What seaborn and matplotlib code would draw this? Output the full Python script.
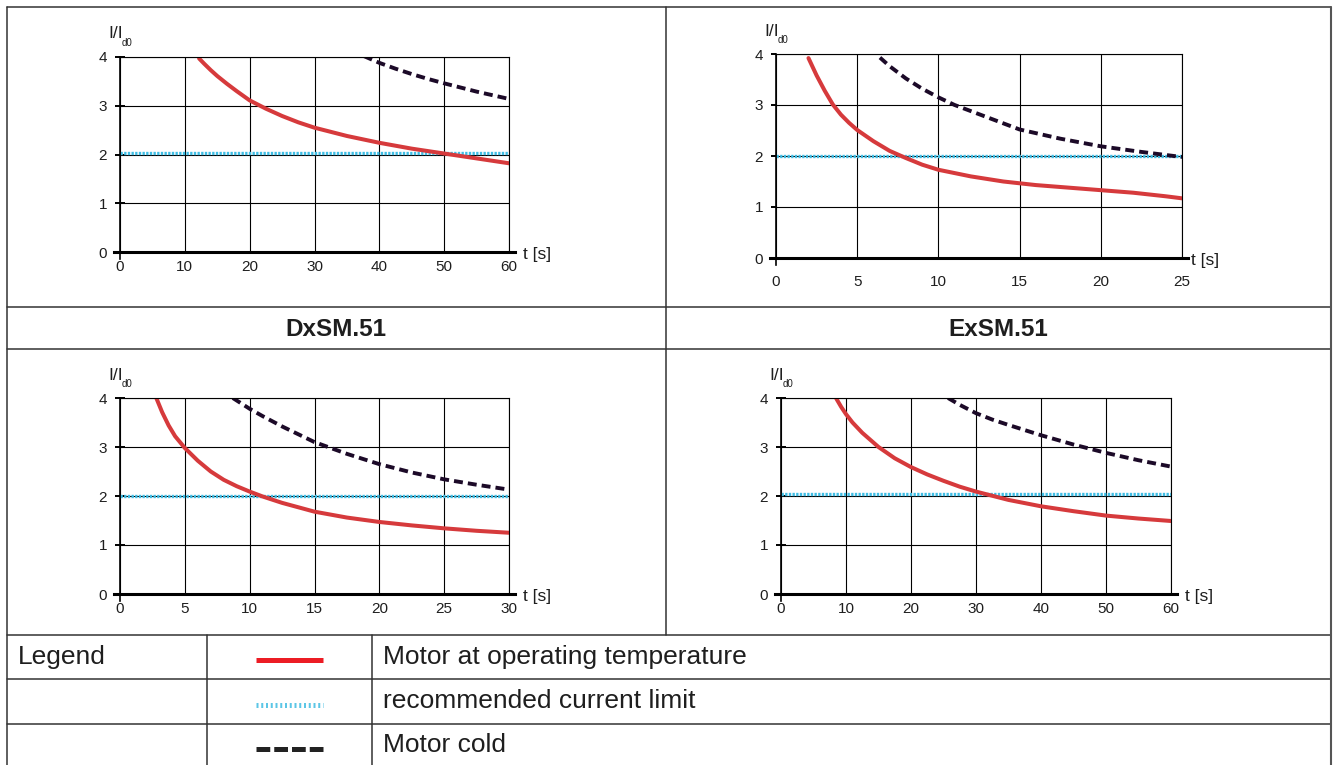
import matplotlib
matplotlib.use("Agg")
import matplotlib.pyplot as plt
import seaborn as sns
from matplotlib.lines import Line2D

# ---------------- data ----------------
y_ticks = [0, 1, 2, 3, 4]

# top-left chart
tl_x_ticks = [0, 10, 20, 30, 40, 50, 60]
tl_hot_t = [12.2, 13, 14, 15, 16.5, 18, 20, 22.5, 25, 27.5, 30, 35, 40, 45, 50, 55, 60]
tl_hot_i = [3.97, 3.86, 3.73, 3.61, 3.45, 3.30, 3.11, 2.94, 2.79, 2.66, 2.55, 2.38, 2.24, 2.12, 2.02, 1.92, 1.82]
tl_cold_t = [37.6, 40, 42.5, 45, 47.5, 50, 55, 60]
tl_cold_i = [4.02, 3.88, 3.76, 3.65, 3.55, 3.46, 3.29, 3.14]
tl_limit = 2.04

# top-right chart
tr_x_ticks = [0, 5, 10, 15, 20, 25]
tr_hot_t = [2.0, 2.5, 3.0, 3.5, 4, 4.5, 5, 6, 7, 8, 9, 10, 12, 14, 16, 18, 20, 22, 24, 25]
tr_hot_i = [3.92, 3.58, 3.28, 3.01, 2.81, 2.65, 2.51, 2.29, 2.10, 1.96, 1.83, 1.73, 1.60, 1.50, 1.43, 1.38, 1.33, 1.28, 1.21, 1.17]
tr_cold_t = [6.4, 7, 8, 9, 10, 11, 12, 13.5, 15, 17.5, 20, 22.5, 25]
tr_cold_i = [3.93, 3.76, 3.52, 3.32, 3.15, 3.00, 2.88, 2.70, 2.52, 2.34, 2.19, 2.08, 1.98]
tr_limit = 2.0

# bottom-left chart (DxSM.51 row)
bl_x_ticks = [0, 5, 10, 15, 20, 25, 30]
bl_hot_t = [2.8, 3.25, 3.75, 4.25, 5, 6, 7, 8, 9, 10, 11, 12.5, 15, 17.5, 20, 22.5, 25, 27.5, 30]
bl_hot_i = [4.0, 3.71, 3.44, 3.22, 2.98, 2.72, 2.50, 2.33, 2.20, 2.09, 1.99, 1.86, 1.68, 1.56, 1.47, 1.40, 1.34, 1.29, 1.25]
bl_cold_t = [8.7, 10, 11, 12.5, 15, 17.5, 20, 22.5, 25, 27.5, 30]
bl_cold_i = [4.0, 3.78, 3.63, 3.42, 3.10, 2.86, 2.65, 2.48, 2.34, 2.23, 2.13]
bl_limit = 2.0

# bottom-right chart (ExSM.51 row)
br_x_ticks = [0, 10, 20, 30, 40, 50, 60]
br_hot_t = [8.5, 9.25, 10, 11, 12.5, 15, 17.5, 20, 22.5, 25, 27.5, 30, 35, 40, 45, 50, 55, 60]
br_hot_i = [3.99, 3.82, 3.67, 3.50, 3.29, 3.00, 2.77, 2.59, 2.44, 2.31, 2.19, 2.09, 1.92, 1.79, 1.69, 1.60, 1.54, 1.49]
br_cold_t = [25.7, 27.5, 30, 32.5, 35, 40, 45, 50, 55, 60]
br_cold_i = [4.0, 3.86, 3.69, 3.56, 3.45, 3.24, 3.05, 2.88, 2.73, 2.60]
br_limit = 2.05

headers = ["DxSM.51", "ExSM.51"]
legend_title = "Legend"
legend_labels = ["Motor at operating temperature", "recommended current limit", "Motor cold"]
y_label_main = "I/I"
y_label_sub = "d0"
x_label = "t [s]"

# ---------------- style ----------------
RED = "#d63a3c"
RED_LEG = "#ec1c24"
CYAN = "#3fbde4"
DARK = "#1c0a28"
LINE = "#333333"
TXT = "#1e1e1e"

sns.set_theme(style="white")
plt.rcParams["font.family"] = ["Liberation Sans", "DejaVu Sans"]

W, H = 1338, 765
fig = plt.figure(figsize=(W / 100, H / 100), dpi=100)


def hline(y, x0, x1, lw=1.1, c=LINE):
    fig.add_artist(Line2D([x0 / W, x1 / W], [1 - y / H, 1 - y / H], color=c, lw=lw,
                          transform=fig.transFigure))


def vline(x, y0, y1, lw=1.1, c=LINE):
    fig.add_artist(Line2D([x / W, x / W], [1 - y0 / H, 1 - y1 / H], color=c, lw=lw,
                          transform=fig.transFigure))


# table structure
hline(7, 7, 1331)
hline(307, 7, 1331)
hline(349, 7, 1331)
hline(635, 7, 1331)
hline(679, 7, 1331)
hline(724, 7, 1331)
vline(7, 7, 765)
vline(1331, 7, 765, lw=1.5, c="#555555")
vline(666, 7, 635)
vline(207, 635, 765)
vline(372, 635, 765)

# headers
for txt, cx in zip(headers, [336, 998]):
    fig.text(cx / W, 1 - 329 / H, txt, ha="center", va="center",
             fontsize=17.5, fontweight="bold", color=TXT)

# legend rows
fig.text(18 / W, 1 - 657 / H, legend_title, ha="left", va="center", fontsize=19, color=TXT)
for txt, cy in zip(legend_labels, [657, 701, 745]):
    fig.text(383 / W, 1 - cy / H, txt, ha="left", va="center", fontsize=19, color=TXT)

fig.add_artist(Line2D([256 / W, 323 / W], [1 - 660 / H] * 2, color=RED_LEG, lw=3.6,
                      transform=fig.transFigure, solid_capstyle="butt"))
fig.add_artist(Line2D([256 / W, 323 / W], [1 - 705 / H] * 2, color="#5cc6e6", lw=3.6,
                      linestyle=(0, (0.4, 0.55)), dash_capstyle="butt",
                      transform=fig.transFigure))
fig.add_artist(Line2D([256 / W, 323 / W], [1 - 749 / H] * 2, color="#222222", lw=3.6,
                      linestyle=(0, (2.75, 0.8)), dash_capstyle="butt",
                      transform=fig.transFigure))


def px_axes(x0, y0, x1, y1):
    return fig.add_axes([x0 / W, 1 - y1 / H, (x1 - x0) / W, (y1 - y0) / H])


def draw_chart(ax, hot_t, hot_i, cold_t, cold_i, limit, xticks, xpad, ytick_dir, tlab_dx):
    xmax = xticks[-1]
    sns.lineplot(x=[0, xmax], y=[limit, limit], ax=ax, color=CYAN, lw=2.4,
                 linestyle=(0, (0.7, 0.4)))
    sns.lineplot(x=hot_t, y=hot_i, ax=ax, color=RED, lw=2.9)
    sns.lineplot(x=cold_t, y=cold_i, ax=ax, color=DARK, lw=2.8,
                 linestyle=(0, (2.3, 1.3)))
    ax.set_xlim(0, xmax)
    ax.set_ylim(0, 4)
    ax.set_xticks(xticks)
    ax.set_yticks(y_ticks)
    ax.set_xlabel("")
    ax.set_ylabel("")
    ax.grid(True, color="black", lw=0.8)
    ax.set_axisbelow(True)
    for s in ["top", "right"]:
        ax.spines[s].set_color("black")
        ax.spines[s].set_linewidth(0.8)
    ax.spines["left"].set_color("black")
    ax.spines["left"].set_linewidth(1.2)
    ax.spines["left"].set_bounds(-0.14, 4)
    ax.spines["bottom"].set_color("black")
    ax.spines["bottom"].set_linewidth(2.2)
    ax.spines["bottom"].set_bounds(-0.015 * xmax, xmax * 1.015)
    ax.tick_params(axis="x", length=0, pad=xpad, labelsize=11, labelcolor=TXT)
    if ytick_dir == "inout":
        ax.tick_params(axis="y", direction="inout", length=7.2, width=1.4, color="black",
                       pad=5.8, labelsize=11, labelcolor=TXT, left=True)
    else:
        ax.tick_params(axis="y", direction="out", length=3.6, width=1.4, color="black",
                       pad=5.8, labelsize=11, labelcolor=TXT, left=True)
    ax.set_facecolor("none")
    ax.annotate(y_label_main, xy=(0, 1), xycoords="axes fraction", xytext=(-12, 23),
                textcoords="offset pixels", ha="left", va="center", fontsize=12.5,
                color=TXT, annotation_clip=False)
    ax.annotate(y_label_sub, xy=(0, 1), xycoords="axes fraction", xytext=(2, 14),
                textcoords="offset pixels", ha="left", va="center", fontsize=7,
                color=TXT, annotation_clip=False)
    ax.annotate(x_label, xy=(1, 0), xycoords="axes fraction", xytext=(tlab_dx, -3),
                textcoords="offset pixels", ha="left", va="center", fontsize=12.5,
                color=TXT, annotation_clip=False)


ax_tl = px_axes(120, 57, 509, 252)
draw_chart(ax_tl, tl_hot_t, tl_hot_i, tl_cold_t, tl_cold_i, tl_limit, tl_x_ticks, 5.8, "inout", 14)

ax_tr = px_axes(776, 54, 1182, 258)
draw_chart(ax_tr, tr_hot_t, tr_hot_i, tr_cold_t, tr_cold_i, tr_limit, tr_x_ticks, 12, "out", 9)

ax_bl = px_axes(120, 398, 509, 594)
draw_chart(ax_bl, bl_hot_t, bl_hot_i, bl_cold_t, bl_cold_i, bl_limit, bl_x_ticks, 5.8, "inout", 14)

ax_br = px_axes(781, 398, 1171, 594)
draw_chart(ax_br, br_hot_t, br_hot_i, br_cold_t, br_cold_i, br_limit, br_x_ticks, 5.8, "inout", 14)

fig.savefig("out.png", dpi=100, facecolor="white")
